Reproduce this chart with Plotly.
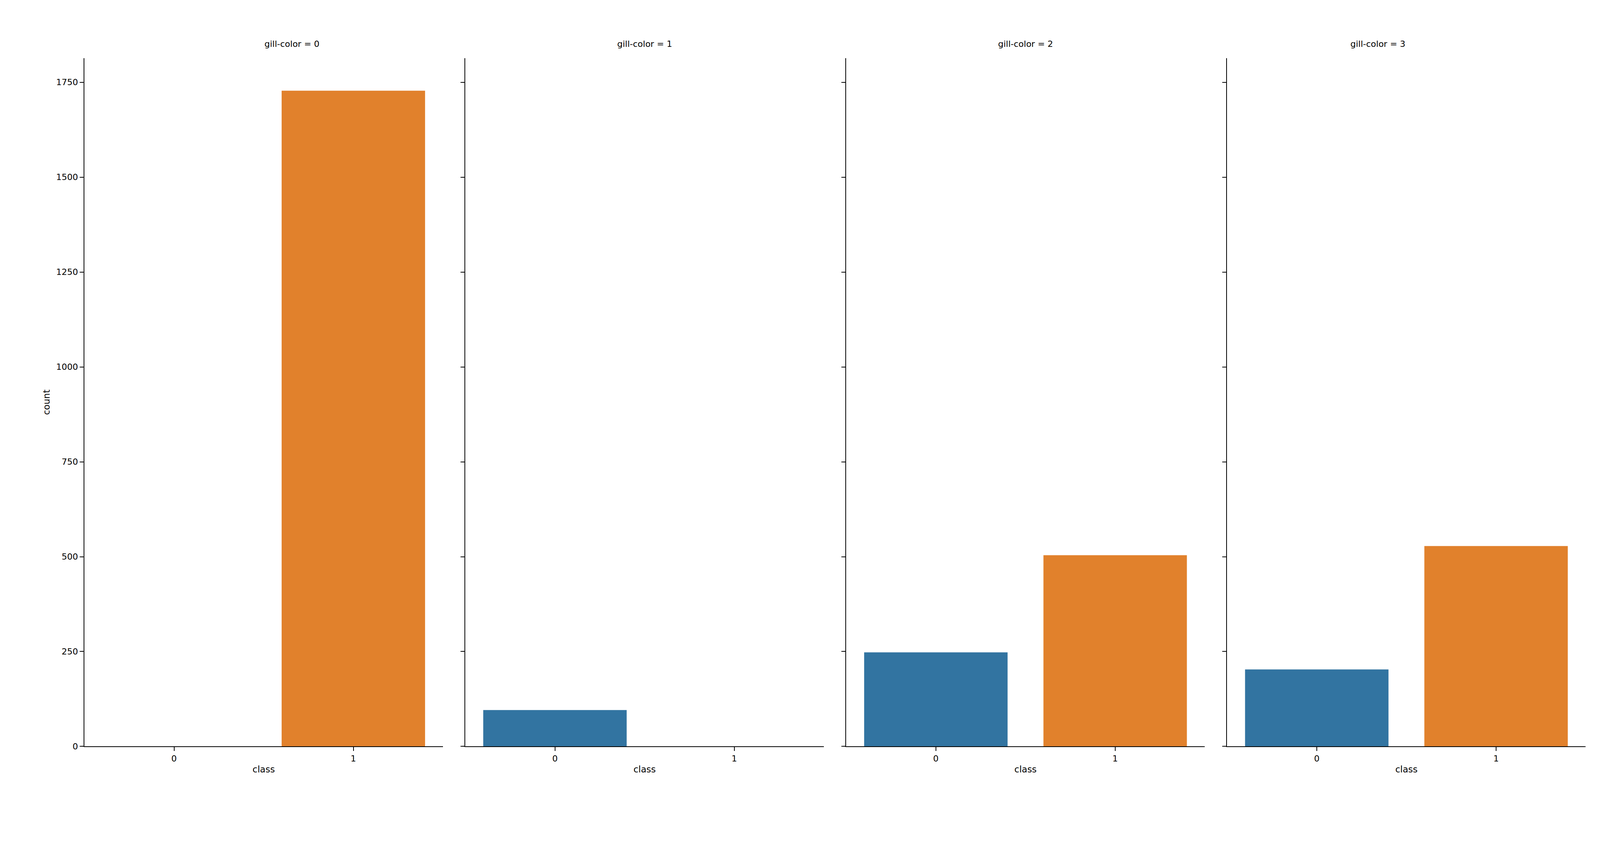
import plotly.graph_objects as go

gill_colors = [0, 1, 2, 3]
classes = ["0", "1"]
counts_class0 = [0, 96, 248, 203]
counts_class1 = [1728, 0, 504, 528]
bar_colors = ["#3274a1", "#e1812c"]

fig = go.Figure()

dominios = [(0.051, 0.276), (0.290, 0.515), (0.529, 0.754), (0.768, 0.993)]

for i, gc in enumerate(gill_colors):
    n = "" if i == 0 else str(i + 1)
    fig.add_trace(go.Bar(
        x=classes, y=[counts_class0[i], counts_class1[i]],
        marker=dict(color=bar_colors, line=dict(width=0)),
        width=0.8, showlegend=False,
        xaxis="x" + n, yaxis="y" + n,
    ))
    eje = dict(domain=list(dominios[i]), anchor="y" + n, type="category",
               range=[-0.5, 1.5], showline=True, linecolor="black", linewidth=2,
               ticks="outside", ticklen=10, tickwidth=2, tickcolor="black",
               tickfont=dict(size=22, color="black"),
               title=dict(text="class", font=dict(size=23, color="black"), standoff=8),
               showgrid=False, zeroline=False)
    ejey = dict(domain=[0.12, 0.935], anchor="x" + n, range=[0, 1814],
                tickvals=[0, 250, 500, 750, 1000, 1250, 1500, 1750],
                showline=True, linecolor="black", linewidth=2,
                ticks="outside", ticklen=10, tickwidth=2, tickcolor="black",
                tickfont=dict(size=22, color="black"),
                showgrid=False, zeroline=False, showticklabels=(i == 0))
    if i == 0:
        ejey["title"] = dict(text="count", font=dict(size=23, color="black"), standoff=10)
    fig.update_layout(**{"xaxis" + n: eje, "yaxis" + n: ejey})
    fig.add_annotation(text="gill-color = %d" % gc, xref="paper", yref="paper",
                       x=sum(dominios[i]) / 2, y=0.945, yanchor="bottom",
                       showarrow=False, font=dict(size=22, color="black"))

# sin width/height: la figura llena la ventana
fig.update_layout(autosize=True, plot_bgcolor="white", paper_bgcolor="white",
                  margin=dict(l=0, r=0, t=0, b=0),
                  font=dict(family="DejaVu Sans", color="black"))

fig.write_html("out.html")
